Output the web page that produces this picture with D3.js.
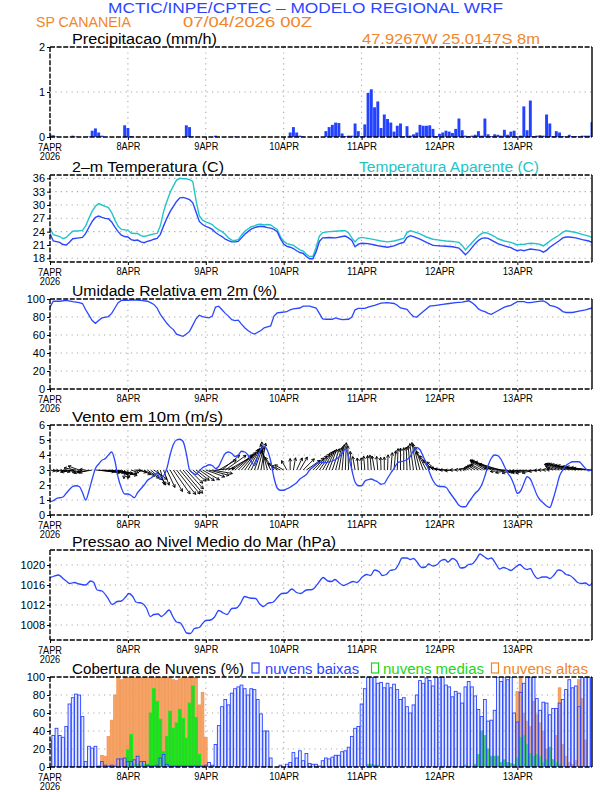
<!DOCTYPE html>
<html><head><meta charset="utf-8">
<script src="https://cdn.jsdelivr.net/npm/d3@7"></script>
<style>body{margin:0;background:#fff}svg text{font-family:"Liberation Sans",Arial,sans-serif}</style>
</head><body><svg id="c" width="612" height="792"></svg>
<script>
// ---------- data ----------
const dayHours = [0,24,48,72,96,120,144];
const dayLabels = ["7APR","8APR","9APR","10APR","11APR","12APR","13APR"];
const yearLabel = "2026";

const precip = [0.06,0.04,0.01,0,0,0,0,0.03,0.01,0,
0,0,0.01,0.14,0.19,0.1,0.03,0,0,0,
0,0,0,0.26,0.2,0.02,0,0,0,0,
0,0,0,0,0,0,0,0,0,0,
0,0,0.26,0.22,0.01,0,0,0,0,0,
0,0.03,0,0,0,0,0,0.01,0,0,
0,0,0,0,0,0,0,0,0,0,
0,0,0,0,0.1,0.22,0.1,0.03,0.01,0,
0,0,0,0,0,0.13,0.22,0.27,0.32,0.31,
0.08,0.02,0.03,0.03,0.3,0.13,0.02,0.28,0.98,1.06,
0.66,0.79,0.2,0.5,0.4,0.32,0.12,0.25,0.3,0.02,
0.24,0.03,0.06,0.1,0.27,0.25,0.25,0.26,0.18,0.02,
0.07,0.1,0.14,0.12,0.09,0.18,0.41,0.15,0.03,0.02,
0.03,0.05,0.13,0.03,0.41,0.06,0.02,0.06,0.05,0.03,
0.16,0.05,0.12,0.14,0.02,0.03,0.68,0.15,0.81,0.02,
0.03,0.04,0.03,0.5,0.3,0.02,0.13,0.1,0.02,0.01,
0.05,0.02,0.02,0.01,0.03,0.03,0.03,0.33];

const temp2m = [[0,23.6],[1,21.9],[3,21.6],[4,21.1],[5,21.0],[6,21.6],[7,22.4],[9,22.6],[10,22.7],[11,23.6],[12,25.0],[13,26.3],[14,27.2],[15,27.5],[16,27.2],[17,27.0],[18,26.9],[19,26.2],[20,25.0],[21,24.0],[22,23.2],[23,22.9],[24,22.8],[25,22.2],[26,22.0],[27,22.1],[28,21.7],[29,21.5],[30,21.8],[31,22.0],[32,22.3],[33,22.5],[34,23.4],[35,25.3],[36,27.0],[37,28.5],[38,29.7],[39,30.8],[40,31.6],[41,31.7],[42,31.5],[43,31.2],[44,30.5],[45,28.4],[46,26.3],[47,25.6],[48,25.2],[49,24.9],[50,24.5],[51,23.8],[52,23.3],[53,22.9],[54,22.3],[55,22.0],[56,21.7],[57,21.7],[58,21.8],[59,22.6],[60,23.4],[61,24.0],[62,24.6],[63,24.9],[64,25.1],[65,25.2],[66,25.1],[67,24.9],[68,24.8],[69,24.5],[70,24.0],[71,22.4],[72,21.2],[73,20.7],[74,20.5],[75,20.2],[76,19.7],[77,19.3],[78,19.1],[79,18.4],[80,17.9],[81,17.9],[82,19.5],[83,21.8],[84,22.6],[86,22.7],[88,22.6],[90,22.9],[91,23.0],[92,22.6],[93,22.0],[94,20.6],[95,21.2],[96,21.4],[98,21.3],[100,21.0],[102,20.7],[104,20.5],[106,20.8],[108,21.4],[109,21.6],[110,22.7],[111,23.1],[112,22.9],[114,22.3],[116,21.6],[118,20.9],[120,20.8],[122,20.7],[124,20.6],[126,20.3],[127,19.6],[128,18.8],[129,19.5],[130,20.4],[131,21.3],[132,22.0],[133,22.5],[134,22.6],[135,22.5],[136,22.1],[137,21.7],[138,21.3],[140,20.8],[142,20.4],[143,20.0],[144,19.7],[145,19.9],[146,19.7],[147,19.9],[148,20.1],[150,19.9],[151,19.8],[152,19.4],[153,19.8],[154,20.5],[155,21.0],[156,21.5],[157,22.0],[158,22.6],[159,22.8],[160,22.8],[162,22.6],[164,22.2],[166,21.9],[167,21.6]];

const tempApparent = [[0,24.8],[1,23.3],[3,22.9],[4,22.4],[5,22.7],[6,23.4],[7,24.1],[9,24.2],[10,24.3],[11,25.3],[12,27.0],[13,28.6],[14,29.7],[15,30.3],[16,30.0],[17,29.7],[18,29.4],[19,28.3],[20,26.6],[21,25.2],[22,24.5],[23,24.4],[24,24.3],[25,23.7],[26,23.6],[27,23.6],[28,23.1],[29,22.9],[30,23.1],[31,23.3],[32,23.5],[33,23.6],[34,25.3],[35,28.5],[36,30.8],[37,32.8],[38,34.3],[39,35.6],[40,36.0],[41,35.9],[42,35.9],[43,35.7],[44,35.3],[45,31.0],[46,27.6],[47,26.6],[48,26.2],[49,25.9],[50,25.6],[51,24.9],[52,24.4],[53,24.0],[54,23.4],[55,22.6],[56,22.1],[57,22.0],[58,22.2],[59,23.2],[60,24.1],[61,24.6],[62,25.1],[63,25.3],[64,25.6],[65,25.7],[66,25.5],[67,25.6],[68,25.5],[69,25.0],[70,24.5],[71,22.9],[72,21.8],[73,21.3],[74,21.1],[75,20.9],[76,20.4],[77,19.9],[78,19.6],[79,18.9],[80,18.4],[81,18.4],[82,20.5],[83,23.0],[84,23.8],[86,24.0],[88,24.1],[90,24.2],[91,24.2],[92,23.7],[93,22.6],[94,21.7],[95,22.5],[96,22.7],[98,22.5],[100,22.2],[102,21.9],[104,21.7],[106,21.9],[108,22.3],[109,22.5],[110,23.8],[111,24.2],[112,24.0],[114,23.5],[116,22.8],[118,22.3],[120,22.1],[122,21.9],[124,21.8],[126,21.6],[127,20.9],[128,19.9],[129,20.7],[130,21.5],[131,22.3],[132,23.0],[133,23.6],[134,23.8],[135,23.6],[136,23.3],[137,22.9],[138,22.4],[140,21.9],[142,21.6],[143,21.3],[144,21.0],[145,21.2],[146,21.1],[147,21.3],[148,21.4],[150,21.3],[151,21.1],[152,20.8],[153,21.3],[154,21.9],[155,22.4],[156,22.8],[157,23.3],[158,23.9],[159,24.2],[160,24.1],[162,23.8],[164,23.4],[166,23.0],[167,22.7]];

const humidity = [[0,91],[1,97.5],[3,97.5],[5,98.5],[7,97],[9,96],[10,95],[11,88],[12,82],[13,76],[14,73],[15,76],[16,79],[18,80.5],[19,84],[20,90],[21,96],[22,98.5],[24,98.5],[26,99],[28,98.5],[30,97.5],[31,96],[32,94],[33,90],[34,83],[35,78],[36,73],[37,69],[38,66],[39,61],[40,59.5],[41,58.5],[42,61],[43,64],[44,71],[45,78],[46,82],[47,80.5],[48,79.5],[49,79],[50,81],[51,91],[52,92],[53,88],[54,84],[55,81],[56,77],[57,76],[58,76.5],[59,72],[60,68],[61,65],[62,62.5],[63,61],[64,63],[65,65],[66,68],[67,69],[68,70],[69,81],[70,84.5],[71,85],[73,86],[74,88],[75,89],[77,90],[78,92],[80,92],[82,90],[83,84],[84,78],[85,77.5],[87,77.5],[88,79],[89,78],[90,77],[92,77.5],[93,80],[94,88],[95,89.5],[97,89.5],[98,91],[100,93],[102,95.5],[104,96],[106,95],[107,93],[108,90],[110,88.5],[111,84],[112,80.5],[113,80],[114,83],[115,86],[117,92],[119,93],[121,94],[123,95],[125,96],[127,96.5],[129,98],[130,96],[131,93],[132,89],[133,87],[134,86],[135,84],[136,83],[137,85],[138,87],[140,91],[142,93],[144,97],[146,97],[147,96],[148,96],[150,97],[152,98],[153,96],[154,93],[155,92],[156,91],[157,89],[158,86],[159,85],[161,85],[163,86.5],[165,88],[167,90]];

const windSpeed = [0.9,0.95,1.1,1.15,1.2,1.45,1.7,1.9,1.95,1.9,
1.5,1.0,1.6,2.4,3.1,3.4,3.65,3.75,4.0,4.2,
3.6,2.5,1.8,1.4,1.4,1.3,1.15,1.5,1.75,2.0,
2.3,2.45,2.6,2.8,2.4,2.6,3.1,4.0,4.7,5.0,
5.05,4.9,4.1,3.0,2.8,2.7,2.95,3.15,3.25,3.35,
3.3,3.1,3.25,3.7,4.1,4.2,4.1,3.9,4.0,4.25,
4.2,4.0,3.6,3.3,3.9,4.4,4.55,4.3,3.6,2.5,
1.8,1.65,1.65,1.75,1.85,2.0,2.15,2.4,2.55,2.7,
3.0,3.2,3.4,3.5,3.5,3.5,3.55,3.6,3.7,3.85,
4.1,4.4,3.9,3.0,2.2,1.95,1.95,2.25,2.35,2.4,
2.3,2.2,2.05,2.1,2.45,2.8,3.1,3.45,3.55,3.6,
3.7,3.9,4.3,4.5,4.35,3.9,3.4,2.8,2.3,2.0,
1.9,1.9,1.85,1.55,1.25,0.95,0.65,0.55,0.55,0.85,
1.15,1.45,1.65,2.0,2.6,3.3,3.8,4.0,3.95,3.7,
3.25,2.8,2.5,2.0,1.45,1.6,2.1,2.55,2.4,1.9,
1.35,1.0,0.8,0.6,0.5,1.05,1.8,2.6,3.0,3.3,
3.45,3.55,3.55,3.55,3.35,3.1,2.95,3.05];

// direction each arrow points to (degrees, 0 = east, 90 = north)
const windDir = [-10,-10,-12,-8,-15,-12,-10,190,170,160,
200,175,195,190,-5,-8,-6,-10,-8,-12,
-10,-15,-40,-95,-90,-20,-5,-15,-25,-30,
-35,-40,-35,-60,-75,-70,-65,-60,-55,-52,
-50,-50,-48,-45,-40,-38,-35,-30,-20,-15,
-10,5,30,40,35,30,35,40,45,50,
55,60,65,70,75,80,95,105,115,125,
145,155,150,120,90,80,65,60,45,35,
40,45,50,55,60,65,70,72,75,80,
85,88,92,95,100,95,92,95,92,95,
100,95,92,90,88,85,85,88,90,90,
92,95,98,100,105,110,118,125,135,140,
165,170,175,180,185,180,175,165,155,150,
150,148,150,152,150,152,155,158,160,165,
175,185,190,195,195,190,188,190,192,195,
190,185,180,175,170,165,162,160,160,162,
163,165,167,168,170,170,172,175];

const pressure = [[0,1017.5],[1,1017.7],[2.6,1018],[4,1017.3],[5,1016.8],[6,1016.3],[7.5,1016.5],[9,1016.2],[11,1016],[12.5,1016.8],[13.5,1016.5],[14.5,1015],[16,1014.8],[17.7,1013.5],[19.2,1012.1],[20.7,1012.7],[22,1012.8],[23.3,1013.6],[24.3,1014.3],[25.5,1013.7],[26.5,1012.6],[28.5,1012.3],[29.7,1011.4],[30.9,1009.7],[32,1010.1],[33.3,1010.2],[34.3,1009.7],[35.5,1010.3],[36.7,1011],[38,1009.5],[39,1008.6],[40.2,1008.4],[41.1,1007.5],[42.1,1006.4],[43.3,1006.3],[44.5,1007.3],[46,1007.5],[47,1008.3],[48,1008.9],[49.5,1009],[50.7,1009.6],[52,1010.9],[53.4,1010.4],[54.6,1010.1],[56,1011.3],[57.4,1011.4],[58.6,1012.2],[60,1013.7],[61.6,1013.4],[63.4,1013.3],[64.6,1012.2],[65.8,1011.7],[67,1012.3],[68.8,1012.6],[70.2,1013.6],[71.4,1014.3],[73,1014.4],[74.5,1015.2],[76,1014.5],[77.2,1014.3],[79,1015],[80.8,1015.1],[82.6,1016.3],[84.2,1017.5],[85.6,1016.8],[86.8,1016.7],[87.8,1017.1],[89,1016.5],[90.4,1015.9],[92.2,1016.4],[93.4,1016.7],[94.6,1016.5],[96.2,1017.6],[97.6,1018.1],[98.8,1017.9],[100,1019],[101.5,1018.6],[102.4,1017.9],[103.6,1018.1],[104.8,1018.9],[106.3,1019.1],[107.3,1020],[108.5,1021.4],[110,1021.4],[111,1021.1],[112,1021.3],[113.3,1020.4],[114.5,1019.5],[115.7,1019.6],[116.6,1020.2],[118,1019.8],[119.3,1020.1],[120.5,1020.9],[121.7,1021.1],[122.6,1020.6],[124,1021.3],[125.3,1020.8],[126.5,1019.4],[127.7,1019.5],[129,1020.1],[130,1020.2],[131.3,1021.1],[132.5,1022.2],[133.7,1021.7],[135,1021.2],[136,1021.4],[137.3,1020.3],[138.5,1019.2],[139.7,1019.5],[141,1019.2],[142,1018.9],[143.3,1019.5],[144.8,1020.1],[146,1019.4],[147,1019.1],[148,1019.3],[149,1018.2],[150.3,1017.3],[151.7,1017.6],[153,1017.6],[154,1017.3],[155.3,1018],[156.6,1019],[157.8,1018.8],[159,1018.1],[160.2,1017.9],[161.4,1017.3],[162.6,1016.5],[163.8,1016.3],[165,1016.4],[166.2,1015.9],[167,1016.4]];

const cloudLow = [30,35,43,35,33,45,70,77,81,80,
56,6,23,21,23,1,6,2,1,2,
1,9,9,10,6,6,8,12,6,6,
2,1,1,2,10,14,3,1,1,1,
1,1,1,1,1,1,1,1,2,5,
2,25,46,67,75,69,82,87,89,91,
87,80,87,86,75,59,40,40,10,0,
0,2,0,3,5,16,10,18,7,15,
4,3,3,1,7,10,9,11,13,13,
17,18,22,34,43,45,70,87,100,100,
100,93,94,88,93,88,92,86,75,77,
67,60,69,80,96,93,99,96,90,100,
100,100,91,89,78,84,82,71,89,95,
89,79,64,56,75,51,52,63,100,95,
100,97,100,60,50,83,93,100,100,100,
76,63,72,71,58,65,65,71,75,86,
97,88,90,67,100,100,100,100];

const cloudMid = [0,0,0,0,0,0,0,0,0,0,
0,0,0,0,0,0,0,0,0,0,
0,0,0,0,19,36,3,3,2,3,
3,60,87,73,53,17,34,62,43,49,
64,54,32,71,90,55,14,0,0,0,
0,0,0,0,0,0,0,0,0,0,
0,0,0,0,0,0,0,0,0,0,
0,0,0,0,0,0,0,0,0,0,
0,0,0,0,0,0,0,0,0,0,
0,0,0,0,0,0,0,0,3,3,
2,2,0,0,0,0,0,0,0,0,
0,0,0,0,0,0,0,0,0,0,
0,0,0,0,0,0,0,0,2,0,
0,3,14,40,35,20,12,12,12,5,
8,5,4,3,10,33,35,25,15,12,
14,12,5,8,22,8,5,3,0,0,
0,0,0,0,0,0,0,0];

const cloudHigh = [0,0,0,0,0,0,0,0,0,0,
0,0,0,0,0,0,13,12,34,52,
80,100,97,100,100,100,99,100,100,100,
100,100,100,100,100,100,100,100,97,96,
98,100,100,100,100,100,69,83,33,0,
0,0,0,0,0,0,0,0,0,0,
0,0,0,0,0,0,0,0,0,0,
0,0,0,0,0,0,0,0,0,0,
0,0,0,0,0,0,0,0,0,0,
0,0,0,0,0,0,0,0,0,0,
0,0,0,0,0,0,0,0,0,0,
0,0,0,0,0,0,0,0,0,0,
0,0,0,0,0,0,0,0,0,0,
0,0,0,0,0,0,0,0,0,0,
0,0,0,0,84,99,60,51,45,73,
58,49,40,20,10,8,35,88,25,12,
5,3,7,97,76,30,0,0];

// ---------- drawing ----------
const svg = d3.select("#c");
const BLUE = "#2a46ff", ORANGE = "#f0862c", CYAN = "#22c4c8";
const L = 50, R = 592;
const x = d3.scaleLinear().domain([0,167]).range([L,R]);
const step = x(1) - x(0);

function narrow(sel, perChar){
  sel.attr("textLength", function(){ return this.textContent.length*perChar; })
     .attr("lengthAdjust","spacingAndGlyphs");
}
function text(str, x0, y0, w, color, size){
  return svg.append("text").attr("x",x0).attr("y",y0).attr("fill",color)
    .attr("font-size",size).attr("textLength",w).attr("lengthAdjust","spacingAndGlyphs").text(str);
}

function panel(top, bottom, domain, ticks, title){
  const y = d3.scaleLinear().domain(domain).range([bottom, top]);
  const grid = svg.append("g").attr("stroke","#a8a8a8").attr("stroke-width",1.1).attr("stroke-dasharray","1.2,4.2");
  grid.selectAll("line.h").data(ticks.filter(t => y(t) > top+2 && y(t) < bottom-2)).join("line")
    .attr("x1",L).attr("x2",R).attr("y1",d=>y(d)).attr("y2",d=>y(d));
  grid.selectAll("line.v").data(dayHours.slice(1)).join("line")
    .attr("x1",d=>x(d)).attr("x2",d=>x(d)).attr("y1",top).attr("y2",bottom);
  const id = "clip"+top;
  svg.append("clipPath").attr("id",id).append("rect").attr("x",L).attr("y",top).attr("width",R-L).attr("height",bottom-top);
  const marks = svg.append("g").attr("clip-path",`url(#${id})`);
  text(title[0], 72, top-3.5, title[1], "#000", 14);
  return {y, marks, top, bottom, ticks};
}

function finish(p){
  const f = svg.append("g").attr("stroke","#000").attr("stroke-width",1.4).attr("fill","none");
  f.append("line").attr("x1",L).attr("x2",R).attr("y1",p.top).attr("y2",p.top).attr("stroke-dasharray","5,1.6");
  f.append("line").attr("x1",L).attr("x2",R).attr("y1",p.bottom).attr("y2",p.bottom).attr("stroke-dasharray","5,1.6");
  f.append("line").attr("x1",L).attr("x2",L).attr("y1",p.top).attr("y2",p.bottom).attr("stroke-dasharray","5,1.6");
  f.append("line").attr("x1",R).attr("x2",R).attr("y1",p.top).attr("y2",p.bottom);
  const ya = svg.append("g").attr("transform",`translate(${L},0)`)
    .call(d3.axisLeft(p.y).tickValues(p.ticks).tickFormat(d3.format("d")).tickSize(3).tickPadding(2));
  ya.select(".domain").remove();
  ya.selectAll("line").attr("stroke","#000");
  ya.selectAll("text").attr("font-size",11).attr("fill","#000").attr("font-family","Liberation Sans, Arial").call(narrow,6.1);
  const xa = svg.append("g").attr("transform",`translate(0,${p.bottom})`)
    .call(d3.axisBottom(x).tickValues(dayHours).tickFormat((d,i)=>dayLabels[i]).tickSize(3).tickPadding(2.2));
  xa.select(".domain").remove();
  xa.selectAll("line").attr("stroke","#000");
  xa.selectAll(".tick text").filter(d => d === dayHours[0]).remove();
  xa.selectAll(".tick text").attr("font-size",11.5).attr("fill","#000").attr("font-family","Liberation Sans, Arial").call(narrow,6.0);
  // first date label stacked with the year, as one text
  const first = svg.append("text").attr("transform",`translate(${L},${p.bottom}) scale(0.8,1)`)
    .attr("text-anchor","middle").attr("font-size",11.5).attr("fill","#000");
  first.append("tspan").attr("x",0).attr("y",13.6).text(dayLabels[0]);
  first.append("tspan").attr("x",0).attr("y",23.4).attr("font-size",11.5).text(yearLabel);
}

// header
text("MCTIC/INPE/CPTEC \u2013 MODELO REGIONAL WRF", 108, 12.5, 395, BLUE, 14);
text("SP CANANEIA", 36, 27, 95, ORANGE, 14);
text("07/04/2026 00Z", 183, 27, 129, ORANGE, 14);
text("47.9267W 25.0147S 8m", 362, 43.5, 178, ORANGE, 14);

// 1 precipitation
const p1 = panel(47, 137, [0,2], [0,1,2], ["Precipitacao (mm/h)",145]);
p1.marks.selectAll("rect").data(precip).join("rect")
  .attr("x",(d,i)=>x(i)-step*0.45).attr("width",step*0.9)
  .attr("y",d=>p1.y(d)).attr("height",d=>p1.bottom-p1.y(d)).attr("fill","#2242ff");
finish(p1);

// 2 temperature
const p2 = panel(175, 262, [17.17,36.75], [18,21,24,27,30,33,36], ["2\u2013m Temperatura (C)",152]);
text("Temperatura Aparente (C)", 359, 171.5, 180, CYAN, 14);
const line2 = d3.line().x(d=>x(d[0])).y(d=>p2.y(d[1]));
p2.marks.append("path").attr("d",line2(tempApparent)).attr("fill","none").attr("stroke",CYAN).attr("stroke-width",1.4);
p2.marks.append("path").attr("d",line2(temp2m)).attr("fill","none").attr("stroke",BLUE).attr("stroke-width",1.4);
finish(p2);

// 3 humidity
const p3 = panel(299, 389, [0,100], [0,20,40,60,80,100], ["Umidade Relativa em 2m (%)",205]);
p3.marks.append("path").attr("d",d3.line().x(d=>x(d[0])).y(d=>p3.y(d[1]))(humidity))
  .attr("fill","none").attr("stroke",BLUE).attr("stroke-width",1.3);
finish(p3);

// 4 wind
const p4 = panel(425, 515, [0,6], [0,1,2,3,4,5,6], ["Vento em 10m (m/s)",151]);
const pxPerMs = 6.2;
const arrows = p4.marks.append("g").attr("stroke","#000").attr("stroke-width",0.9).attr("fill","none");
windSpeed.forEach((s,i)=>{
  const a = windDir[i]*Math.PI/180;
  const x0 = x(i), y0 = p4.y(3);
  const len = s*pxPerMs;
  const x1 = x0 + len*Math.cos(a), y1 = y0 - len*Math.sin(a);
  const h = 3.2, sp = 0.5;
  const b1 = a + Math.PI - sp, b2 = a + Math.PI + sp;
  arrows.append("path").attr("d",
    `M${x0},${y0}L${x1},${y1}M${x1+h*Math.cos(b1)},${y1-h*Math.sin(b1)}L${x1},${y1}L${x1+h*Math.cos(b2)},${y1-h*Math.sin(b2)}`);
});
p4.marks.append("path").attr("d",d3.line().curve(d3.curveMonotoneX).x((d,i)=>x(i)).y(d=>p4.y(d))(windSpeed))
  .attr("fill","none").attr("stroke",BLUE).attr("stroke-width",1.3);
finish(p4);

// 5 pressure
const p5 = panel(550, 640, [1005,1023], [1008,1012,1016,1020], ["Pressao ao Nivel Medio do Mar (hPa)",264]);
p5.marks.append("path").attr("d",d3.line().curve(d3.curveMonotoneX).x(d=>x(d[0])).y(d=>p5.y(d[1]))(pressure))
  .attr("fill","none").attr("stroke",BLUE).attr("stroke-width",1.3);
finish(p5);

// 6 clouds
const p6 = panel(677, 767, [0,100], [0,20,40,60,80,100], ["Cobertura de Nuvens (%)",172]);
const bw = step*0.86;
function drawBars(data, fill, stroke, sw){
  const g = p6.marks.append("g");
  data.forEach((d,i)=>{
    if(d<=0) return;
    g.append("rect").attr("x",x(i)-bw/2).attr("width",bw)
      .attr("y",p6.y(d)).attr("height",p6.bottom-p6.y(d))
      .attr("fill",fill).attr("stroke",stroke).attr("stroke-width",sw);
  });
}
drawBars(cloudHigh, "#f5a467", "#f39050", 0.7);
drawBars(cloudMid, "#2fd22f", "#10f010", 0.9);
drawBars(cloudLow, "rgba(170,185,255,0.3)", "#2a46ff", 0.9);
finish(p6);
// legend
const lg = svg.append("g").attr("fill","none").attr("stroke-width",1.2);
lg.append("rect").attr("x",252).attr("y",663).attr("width",7).attr("height",10).attr("stroke",BLUE);
text("nuvens baixas", 265, 673.5, 94, BLUE, 14);
lg.append("rect").attr("x",371.5).attr("y",663).attr("width",7).attr("height",10).attr("stroke","#18d818");
text("nuvens medias", 383, 673.5, 101, "#18d818", 14);
lg.append("rect").attr("x",491.5).attr("y",663).attr("width",7).attr("height",10).attr("stroke",ORANGE);
text("nuvens altas", 503, 673.5, 85, ORANGE, 14);
</script></body></html>
